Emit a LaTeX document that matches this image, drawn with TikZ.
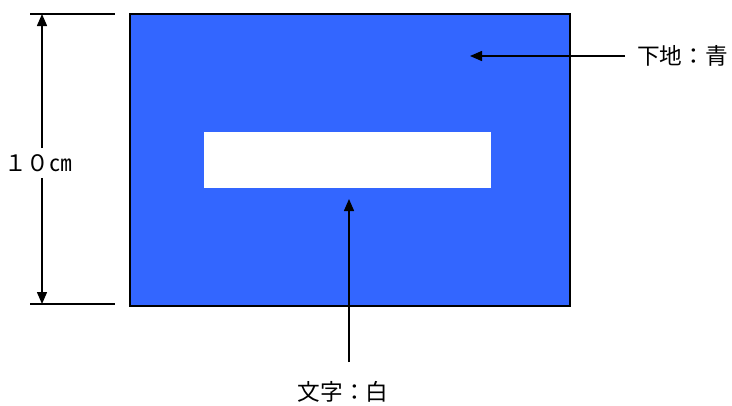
\documentclass[tikz,border=0pt]{standalone}
\usepackage{fontspec}
\setmainfont{Noto Sans CJK JP}
\usetikzlibrary{arrows.meta}

\definecolor{signblue}{HTML}{3366FF}

\begin{document}
\begin{tikzpicture}[x=0.75pt,y=-0.75pt,
    pointer/.style={-{Triangle[length=9pt,width=7.5pt]},line width=1.1pt},
    dimline/.style={line width=1.1pt},
    caption/.style={font=\fontsize{17}{19}\selectfont,inner sep=0pt}]

    \useasboundingbox (0,0) rectangle (732,405);

    % sign plate and text field
    \node (plate) [draw,fill=signblue,line width=1.5pt,anchor=north west,
        minimum width=330pt,minimum height=219pt,inner sep=0pt] at (129,13) {};
    \node (field) [fill=white,anchor=north west,
        minimum width=215.25pt,minimum height=42pt,inner sep=0pt] at (204,132) {};

    % height dimension
    \coordinate (dimtop) at (42,14);
    \coordinate (dimbot) at (42,304);
    \draw[dimline] (30,14) -- (115,14);
    \draw[dimline] (30,304) -- (115,304);
    \node (height) [caption] at (38,163) {１０㎝};
    \draw[pointer] (height.north -| dimtop) ++(0,-6) -- (dimtop);
    \draw[pointer] (height.south -| dimbot) ++(0,6) -- (dimbot);

    % background colour
    \node (ground) [caption,anchor=west] at (637,56) {下地：青};
    \coordinate (groundtip) at (470,56);
    \draw[pointer] ([xshift=-9pt]ground.west) -- (groundtip);

    % letter colour
    \node (letter) [caption] at (343,392) {文字：白};
    \coordinate (lettertip) at (349,199);
    \draw[pointer] (349,362) -- (lettertip);
\end{tikzpicture}
\end{document}
